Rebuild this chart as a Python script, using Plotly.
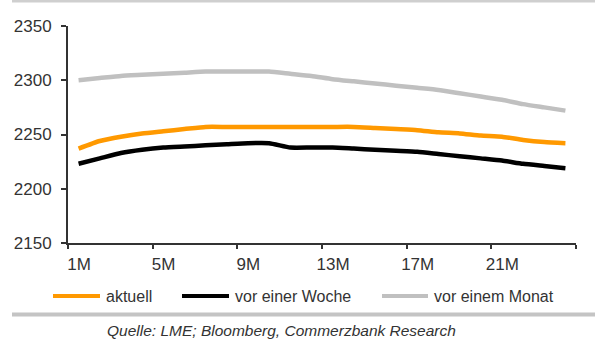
import plotly.graph_objects as go

# Forward curve (months ahead) and prices
months = list(range(1, 25))
tick_labels = ["1M", "5M", "9M", "13M", "17M", "21M", ""]
aktuell = [2237, 2244, 2248, 2251, 2253, 2255, 2257, 2257, 2257, 2257, 2257, 2257,
           2257, 2257, 2256, 2255, 2254, 2252, 2251, 2249, 2248, 2245, 2243, 2242]
vor_woche = [2223, 2228, 2233, 2236, 2238, 2239, 2240, 2241, 2242, 2242, 2238, 2238,
             2238, 2237, 2236, 2235, 2234, 2232, 2230, 2228, 2226, 2223, 2221, 2219]
vor_monat = [2300, 2302, 2304, 2305, 2306, 2307, 2308, 2308, 2308, 2308, 2306, 2304,
             2301, 2299, 2297, 2295, 2293, 2291, 2288, 2285, 2282, 2278, 2275, 2272]

series = [
    ("aktuell", aktuell, "#FF9900"),
    ("vor einer Woche", vor_woche, "#000000"),
    ("vor einem Monat", vor_monat, "#C0C0C0"),
]

W, H = 603, 340
L, R, T, B = 68, 27, 26, 97
PW, PH = W - L - R, H - T - B


def px(x):
    return (x - L) / PW


def py(y):
    return (H - B - y) / PH


fig = go.Figure()
for name, vals, col in series:
    fig.add_trace(go.Scatter(
        x=months, y=vals, name=name, mode="lines",
        line=dict(color=col, width=4.5, shape="spline", smoothing=0.5),
        showlegend=False,
    ))

font = "Liberation Sans, Arial, sans-serif"
txt = "#333333"

shapes = [
    # header rule and footer bar
    dict(type="line", xref="paper", yref="paper", x0=px(12), x1=px(595),
         y0=py(1), y1=py(1), line=dict(color="#CFCFCF", width=3)),
    dict(type="line", xref="paper", yref="paper", x0=px(12), x1=px(595),
         y0=py(314.5), y1=py(314.5), line=dict(color="#C4C4C4", width=4)),
]
annotations = []

# legend row
legend_pos = [(53, 100, 104), (182, 229, 233), (382, 428, 432)]
for (name, _, col), (s0, s1, tx) in zip(series, legend_pos):
    shapes.append(dict(type="line", xref="paper", yref="paper", x0=px(s0), x1=px(s1),
                       y0=py(296), y1=py(296), line=dict(color=col, width=4)))
    annotations.append(dict(text=name, xref="paper", yref="paper", x=px(tx), y=py(296),
                            xanchor="left", yanchor="middle", showarrow=False,
                            font=dict(family=font, size=16, color=txt)))

annotations.append(dict(text="<i>Quelle: LME; Bloomberg, Commerzbank Research</i>",
                        xref="paper", yref="paper", x=px(281), y=py(330.5),
                        xanchor="center", yanchor="middle", showarrow=False,
                        font=dict(family=font, size=15.5, color=txt)))

fig.update_layout(
    width=W, height=H,
    margin=dict(l=L, r=R, t=T, b=B),
    paper_bgcolor="white", plot_bgcolor="white",
    shapes=shapes, annotations=annotations,
    showlegend=False,
    xaxis=dict(
        range=[0.5, 24.5], tickmode="array",
        tickvals=[0.5, 4.5, 8.5, 12.5, 16.5, 20.5, 24.5], ticktext=tick_labels,
        ticklabelshift=11, ticks="outside", ticklen=4, tickwidth=2,
        tickcolor="#333333", showline=True, linecolor="#333333", linewidth=2,
        showgrid=False, zeroline=False, ticklabelstandoff=1,
        tickfont=dict(family=font, size=17, color=txt),
    ),
    yaxis=dict(
        range=[2150, 2350], tickmode="array",
        tickvals=[2150, 2200, 2250, 2300, 2350],
        ticks="outside", ticklen=5, tickwidth=2, tickcolor="#333333",
        showline=True, linecolor="#333333", linewidth=2,
        showgrid=False, zeroline=False, ticklabelstandoff=6,
        tickfont=dict(family=font, size=17, color=txt),
    ),
)

fig.write_html("out.html")
